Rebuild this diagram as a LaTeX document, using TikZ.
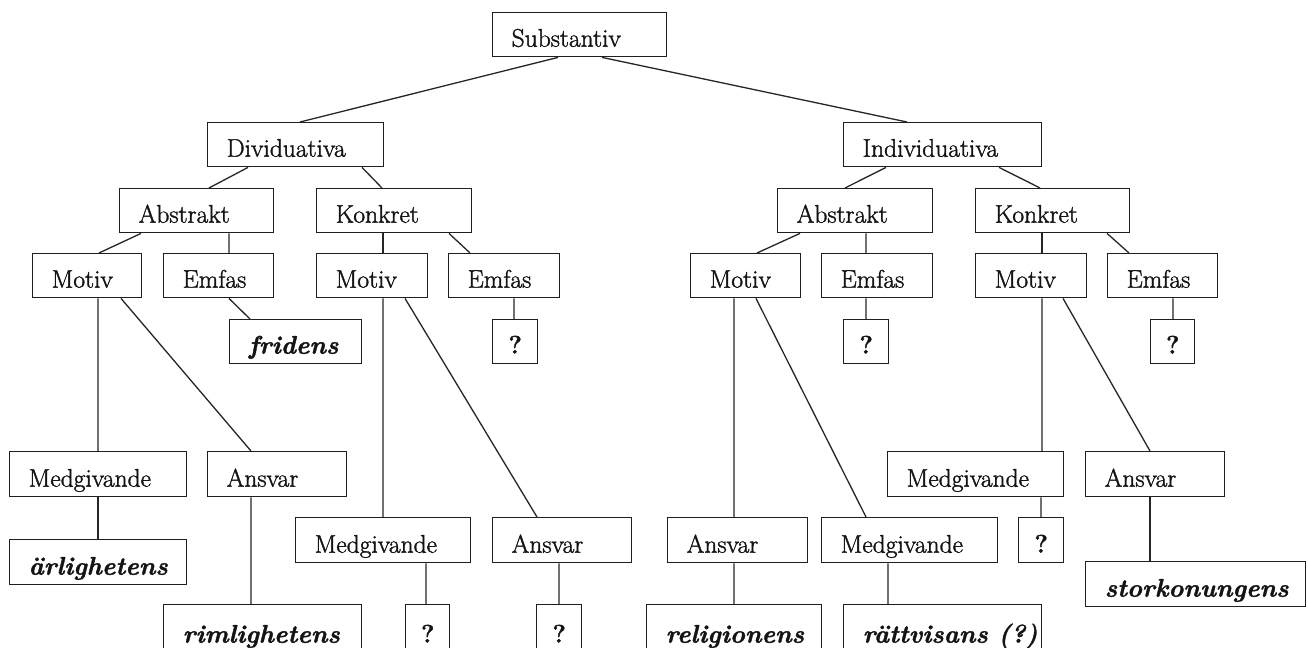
\documentclass[tikz,border=0pt]{standalone}
\usepackage{fontspec}
\setmainfont{Latin Modern Roman}[FakeBold=1.4]
\begin{document}
\begin{tikzpicture}[x=1bp,y=-1bp,
  bx/.style={draw=black!88, line width=1.4bp, inner sep=0pt, text depth=10bp,
    anchor=north west, font=\fontsize{25.5bp}{30bp}\selectfont, text=black!92},
  conn/.style={draw=black!85, line width=1.3bp}]
\useasboundingbox (0,0) rectangle (1308,648);
\fill[white] (0,0) rectangle (1308,648);
% box macros: name, x, y, width, height, text
\newcommand\bx[6]{\node[bx, text height=#5bp-10bp] (#1) at (#2,#3) {\makebox[#4bp][l]{\hspace*{19bp}#6}};}
\newcommand\qbx[5]{\node[bx, text height=#5bp-10bp] (#1) at (#2,#3) {\makebox[#4bp][c]{\textbf{?}}};}
\newcommand\cn[4]{\draw[conn] ([xshift=#2bp]#1.south west) -- ([xshift=#4bp]#3.north west);}
% level 0-1
\bx{sub}{492}{12}{174}{44}{Substantiv}
\bx{div}{207}{122}{176}{44}{Dividuativa}
\bx{ind}{843}{122}{198}{44}{Individuativa}
% level 2
\bx{absL}{119}{188}{154}{44}{Abstrakt}
\bx{konL}{316}{188}{155}{44}{Konkret}
\bx{absR}{777}{188}{155}{44}{Abstrakt}
\bx{konR}{975}{188}{154}{44}{Konkret}
% level 3
\bx{motL1}{32}{253}{109}{44}{Motiv}
\bx{emfL1}{163}{253}{110}{44}{Emfas}
\bx{motL2}{316}{253}{111}{44}{Motiv}
\bx{emfL2}{448}{253}{111}{44}{Emfas}
\bx{motR1}{690}{253}{110}{44}{Motiv}
\bx{emfR1}{821}{253}{111}{44}{Emfas}
\bx{motR2}{975}{253}{111}{44}{Motiv}
\bx{emfR2}{1107}{253}{110}{44}{Emfas}
% level 4
\bx{frid}{229}{319}{132}{44}{\textbf{\textit{fridens}}}
\qbx{qL2}{492}{319}{45}{44}
\qbx{qR1}{843}{319}{45}{44}
\qbx{qR2}{1150}{319}{44}{44}
% lower levels
\bx{medL1}{9}{451}{177}{45}{Medgivande}
\bx{ansL1}{207}{451}{139}{45}{Ansvar}
\bx{arl}{9}{539}{177}{45}{\textbf{\textit{ärlighetens}}}
\bx{medL2}{295}{517}{175}{45}{Medgivande}
\bx{ansL2}{492}{517}{139}{45}{Ansvar}
\bx{rim}{163}{604}{198}{48}{\textbf{\textit{rimlighetens}}}
\qbx{qa}{405}{604}{44}{48}
\qbx{qb}{536}{604}{45}{48}
\bx{medR2}{887}{451}{176}{45}{Medgivande}
\bx{ansR2}{1085}{451}{139}{45}{Ansvar}
\bx{ansR1}{667}{517}{140}{45}{Ansvar}
\bx{medR1}{821}{517}{176}{45}{Medgivande}
\qbx{qR3}{1018}{517}{45}{45}
\bx{stork}{1085}{561}{220}{45}{\textbf{\textit{storkonungens}}}
\bx{rel}{646}{604}{175}{48}{\textbf{\textit{religionens}}}
\bx{ratt}{843}{604}{198}{48}{\textbf{\textit{rättvisans (?)}}}
% connectors
\cn{sub}{66}{div}{93}
\cn{sub}{110}{ind}{64}
\cn{div}{41}{absL}{90}
\cn{div}{155}{konL}{66}
\cn{absL}{22}{motL1}{67}
\cn{absL}{110}{emfL1}{66}
\cn{konL}{67}{motL2}{67}
\cn{konL}{133}{emfL2}{22}
\cn{motL1}{66}{medL1}{89}
\cn{motL1}{89}{ansL1}{44}
\cn{emfL1}{66}{frid}{21}
\cn{motL2}{67}{medL2}{88}
\cn{motL2}{89}{ansL2}{45}
\cn{emfL2}{66}{qL2}{22}
\cn{medL1}{89}{arl}{89}
\cn{ansL1}{44}{rim}{88}
\cn{medL2}{131}{qa}{21}
\cn{ansL2}{67}{qb}{23}
\cn{ind}{43}{absR}{68}
\cn{ind}{156}{konR}{65}
\cn{absR}{23}{motR1}{67}
\cn{absR}{89}{emfR1}{45}
\cn{konR}{67}{motR2}{67}
\cn{konR}{132}{emfR2}{22}
\cn{motR1}{44}{ansR1}{67}
\cn{motR1}{66}{medR1}{45}
\cn{emfR1}{45}{qR1}{23}
\cn{motR2}{67}{medR2}{155}
\cn{motR2}{88}{ansR2}{65}
\cn{emfR2}{66}{qR2}{23}
\cn{medR2}{154}{qR3}{23}
\cn{ansR2}{65}{stork}{65}
\cn{ansR1}{67}{rel}{88}
\cn{medR1}{67}{ratt}{45}
\end{tikzpicture}
\end{document}
